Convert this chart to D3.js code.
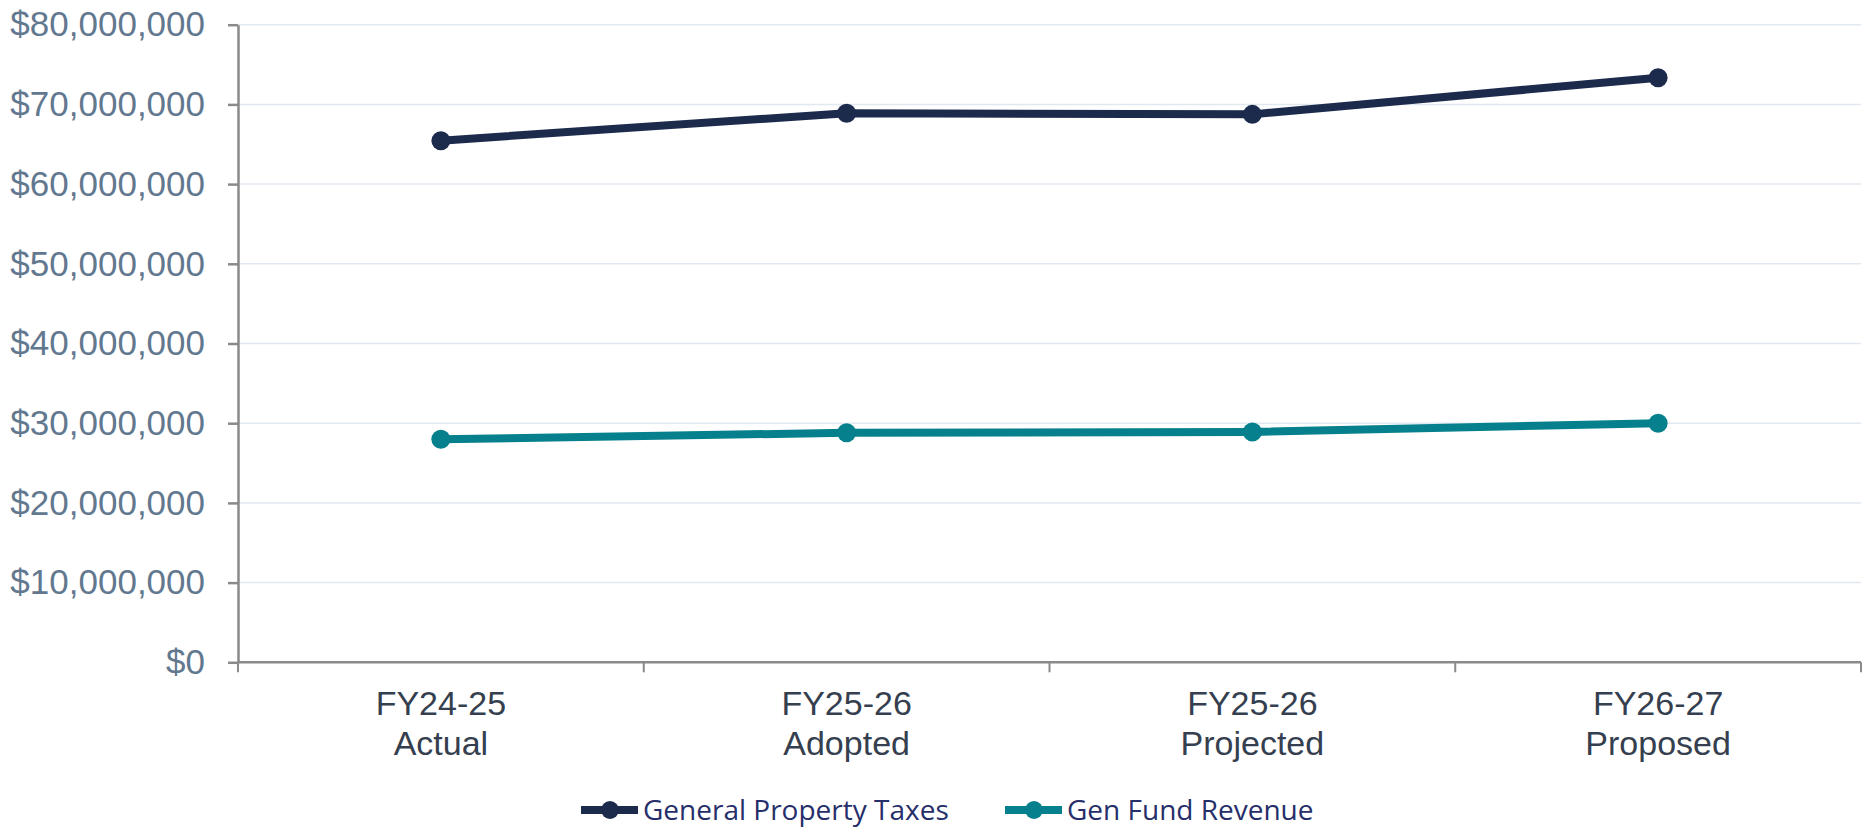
<!DOCTYPE html>
<html>
<head>
<meta charset="utf-8">
<script src="https://cdn.jsdelivr.net/npm/d3@7"></script>
<style>
  html, body { margin: 0; padding: 0; background: #fff; }
  svg { display: block; }
</style>
</head>
<body>
<svg id="chart" width="1873" height="827"></svg>
<script>
// Fiscal periods shown on the x axis (two-line labels)
const periods = ["FY24-25 Actual", "FY25-26 Adopted", "FY25-26 Projected", "FY26-27 Proposed"];
const periodLines = [["FY24-25", "Actual"], ["FY25-26", "Adopted"], ["FY25-26", "Projected"], ["FY26-27", "Proposed"]];

// Series values in dollars
const propertyTaxes = [65450000, 68900000, 68750000, 73350000];
const genFundRevenue = [27980000, 28800000, 28900000, 30000000];

// Y axis tick values
const yTicks = [0, 10000000, 20000000, 30000000, 40000000, 50000000, 60000000, 70000000, 80000000];

const seriesNames = ["General Property Taxes", "Gen Fund Revenue"];
const seriesColors = ["#1c2a4c", "#05808c"];

const svg = d3.select("#chart");
const plot = { left: 238, right: 1861, top: 24.7, bottom: 662.3 };

const x = d3.scaleBand().domain(periods).range([plot.left, plot.right]).padding(0);
const y = d3.scaleLinear().domain([0, 80000000]).range([plot.bottom, plot.top]);
const fmt = d3.format("$,.0f");

// Horizontal gridlines
svg.append("g")
  .selectAll("line")
  .data(yTicks.filter(d => d > 0))
  .join("line")
  .attr("x1", plot.left).attr("x2", plot.right)
  .attr("y1", d => y(d)).attr("y2", d => y(d))
  .attr("stroke", "#e1e8f0").attr("stroke-width", 1.5);

// Y axis
const yAxis = svg.append("g")
  .attr("transform", `translate(${plot.left},0)`)
  .call(d3.axisLeft(y).tickValues(yTicks).tickFormat(fmt).tickSize(10).tickSizeOuter(0).tickPadding(23));
yAxis.select(".domain").attr("stroke", "#8a8a8a").attr("stroke-width", 2.5);
yAxis.selectAll(".tick line").attr("stroke", "#8a8a8a").attr("stroke-width", 2.5);
yAxis.selectAll(".tick text")
  .attr("fill", "#62788f")
  .style("font-family", "'Liberation Sans', Arial, sans-serif")
  .style("font-size", "35px");

// X axis baseline and category boundary ticks
const xAxis = svg.append("g");
xAxis.append("line")
  .attr("x1", plot.left).attr("x2", plot.right)
  .attr("y1", y(0)).attr("y2", y(0))
  .attr("stroke", "#8a8a8a").attr("stroke-width", 2.5);
const boundaries = periods.map(p => x(p)).concat([x(periods[periods.length - 1]) + x.bandwidth()]);
xAxis.selectAll("line.bt")
  .data(boundaries)
  .join("line")
  .attr("class", "bt")
  .attr("x1", d => d).attr("x2", d => d)
  .attr("y1", y(0)).attr("y2", y(0) + 10)
  .attr("stroke", "#8a8a8a").attr("stroke-width", 2);

// Category labels
const labels = xAxis.selectAll("text.cat")
  .data(periods)
  .join("text")
  .attr("class", "cat")
  .attr("text-anchor", "middle")
  .attr("fill", "#353f4f")
  .style("font-family", "'Liberation Sans', Arial, sans-serif")
  .style("font-size", "34px");
labels.each(function(d, i) {
  const t = d3.select(this);
  const cx = x(d) + x.bandwidth() / 2;
  periodLines[i].forEach((ln, j) => {
    t.append("tspan").attr("x", cx).attr("y", 715 + j * 40).text(ln);
  });
});

// Lines with markers
const series = [propertyTaxes, genFundRevenue];
const line = d3.line()
  .x((d, i) => x(periods[i]) + x.bandwidth() / 2)
  .y(d => y(d));

series.forEach((vals, s) => {
  const g = svg.append("g");
  g.append("path")
    .datum(vals)
    .attr("d", line)
    .attr("fill", "none")
    .attr("stroke", seriesColors[s])
    .attr("stroke-width", 8)
    .attr("stroke-linejoin", "round");
  g.selectAll("circle")
    .data(vals)
    .join("circle")
    .attr("cx", (d, i) => x(periods[i]) + x.bandwidth() / 2)
    .attr("cy", d => y(d))
    .attr("r", 9.5)
    .attr("fill", seriesColors[s]);
});

// Legend
const legendItems = [
  { name: seriesNames[0], color: seriesColors[0], x0: 581 },
  { name: seriesNames[1], color: seriesColors[1], x0: 1005 }
];
const legendY = 810;
const leg = svg.append("g");
legendItems.forEach(it => {
  leg.append("line")
    .attr("x1", it.x0).attr("x2", it.x0 + 57)
    .attr("y1", legendY).attr("y2", legendY)
    .attr("stroke", it.color).attr("stroke-width", 8);
  leg.append("circle")
    .attr("cx", it.x0 + 29).attr("cy", legendY).attr("r", 9)
    .attr("fill", it.color);
  leg.append("text")
    .attr("x", it.x0 + 62).attr("y", legendY + 10)
    .attr("fill", "#262f6a")
    .style("font-family", "'Open Sans', 'Noto Sans', sans-serif")
    .style("font-size", "28px")
    .text(it.name);
});
</script>
</body>
</html>
